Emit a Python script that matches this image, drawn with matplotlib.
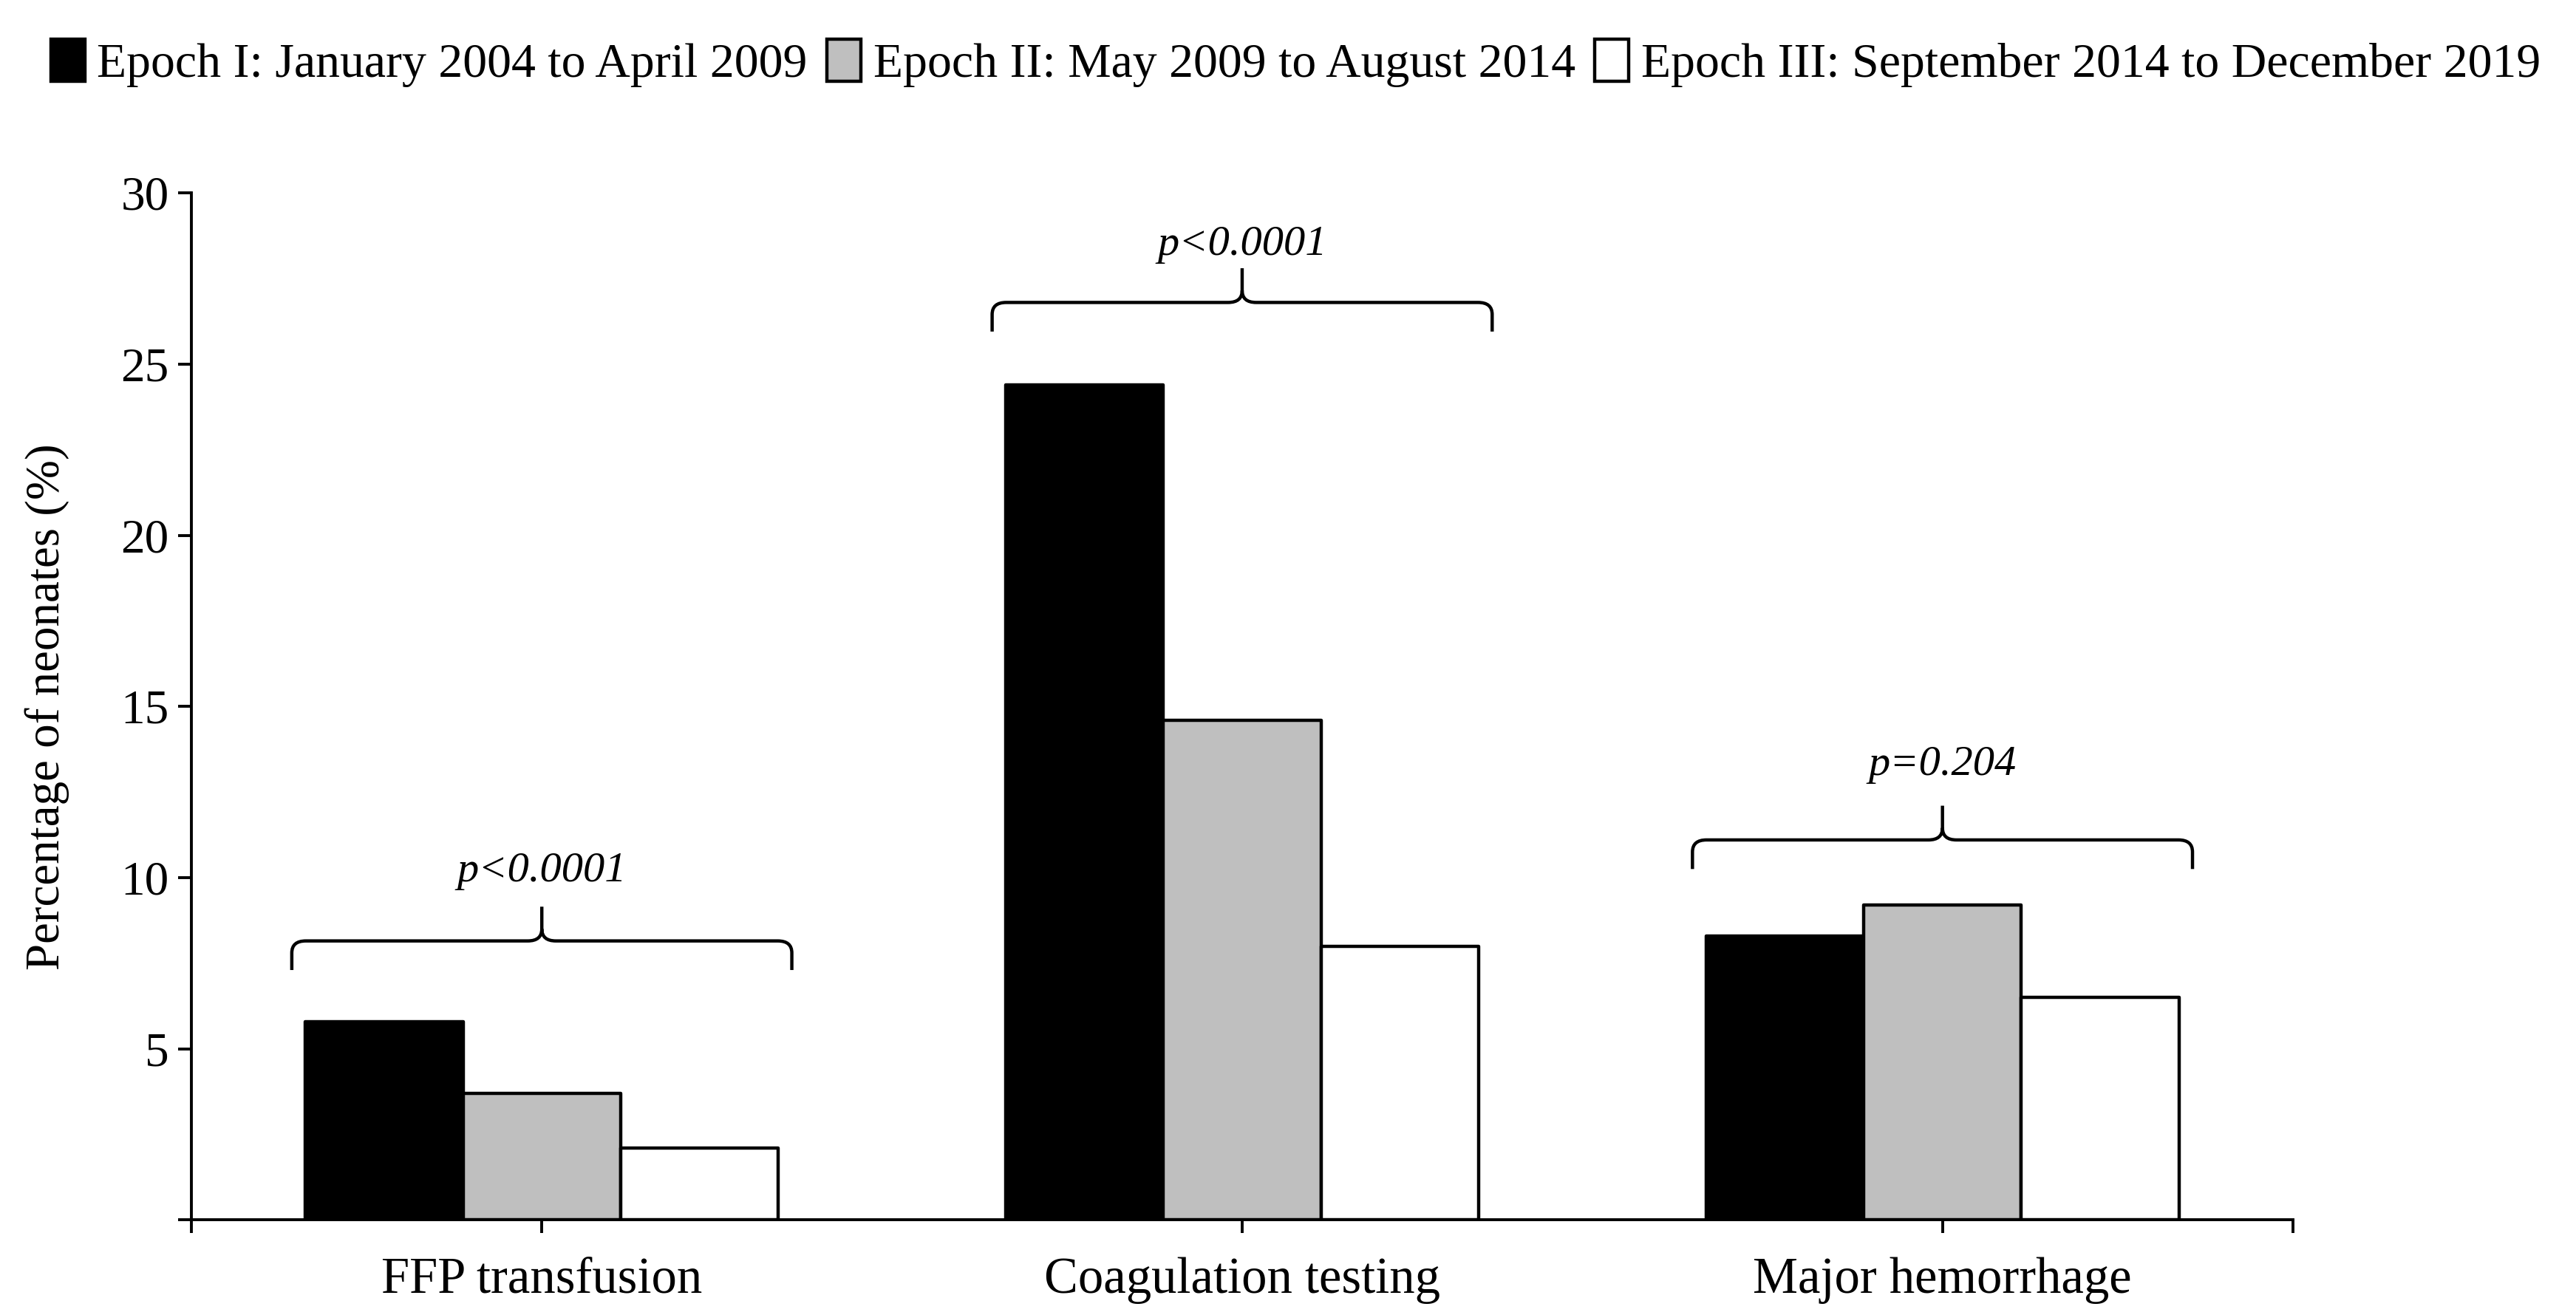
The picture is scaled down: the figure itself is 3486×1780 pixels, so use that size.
import matplotlib
matplotlib.use("Agg")
import matplotlib.pyplot as plt
from matplotlib.path import Path
from matplotlib.patches import PathPatch

plt.rcParams['font.family'] = ['Liberation Serif', 'DejaVu Serif']

categories = ["FFP transfusion", "Coagulation testing", "Major hemorrhage"]
epoch_labels = [
    "Epoch I: January 2004 to April 2009",
    "Epoch II: May 2009 to August 2014",
    "Epoch III: September 2014 to December 2019",
]
epoch1 = [5.8, 24.4, 8.3]
epoch2 = [3.7, 14.6, 9.2]
epoch3 = [2.1, 8.0, 6.5]
p_values = ["p<0.0001", "p<0.0001", "p=0.204"]
brace_levels = [8.15, 26.8, 11.1]
p_levels = [10.2, 28.5, 13.3]

fills = ["black", "#bfbfbf", "white"]
bar_w = 0.225
brace_half = 0.357


def add_brace(ax, c, h, w=brace_half, drop=0.85, tip=1.0, rx=0.02, ry=0.35):
    verts = [
        (c - w, h - drop), (c - w, h - ry), (c - w, h), (c - w + rx, h),
        (c - rx, h), (c, h), (c, h + ry), (c, h + tip),
        (c, h + ry), (c, h), (c + rx, h),
        (c + w - rx, h), (c + w, h), (c + w, h - ry), (c + w, h - drop),
    ]
    codes = [
        Path.MOVETO, Path.LINETO, Path.CURVE3, Path.CURVE3,
        Path.LINETO, Path.CURVE3, Path.CURVE3, Path.LINETO,
        Path.MOVETO, Path.CURVE3, Path.CURVE3,
        Path.LINETO, Path.CURVE3, Path.CURVE3, Path.LINETO,
    ]
    ax.add_patch(PathPatch(Path(verts, codes), fill=False, lw=1.6,
                           edgecolor="black", capstyle="butt", zorder=3))


fig = plt.figure(figsize=(17.43, 8.9), dpi=200)
ax = fig.add_axes([0.0744, 0.0723, 0.8156, 0.781])

x = list(range(len(categories)))
series = [epoch1, epoch2, epoch3]
for i, vals in enumerate(series):
    pos = [xi + (i - 1) * bar_w for xi in x]
    ax.bar(pos, vals, width=bar_w, color=fills[i], edgecolor="black",
           linewidth=1.6, joinstyle="round", label=epoch_labels[i], zorder=2)

for xi, h, ph, p in zip(x, brace_levels, p_levels, p_values):
    add_brace(ax, xi, h)
    ax.text(xi, ph, p, ha="center", va="center", fontsize=21,
            style="italic")

ax.set_xlim(-0.5, 2.5)
ax.set_ylim(0, 30)
ax.set_yticks([0, 5, 10, 15, 20, 25, 30])
ax.set_yticklabels(["", "5", "10", "15", "20", "25", "30"])
ax.set_xticks(x)
ax.set_xticklabels(categories)
ax.set_xticks([-0.5, 2.5], minor=True)
ax.tick_params(axis="both", which="both", direction="out", length=6.5,
               width=1.4)
ax.tick_params(axis="x", pad=11.5, labelsize=24.7)
ax.tick_params(axis="y", pad=4.5, labelsize=23.5)

for s in ["top", "right"]:
    ax.spines[s].set_visible(False)
for s in ["left", "bottom"]:
    ax.spines[s].set_linewidth(1.4)

ax.set_ylabel("Percentage of neonates (%)", fontsize=23.4)
ax.yaxis.set_label_coords(-0.058, 0.5)

fig.legend(loc="center", bbox_to_anchor=(0.503, 0.952), ncol=3,
           frameon=False, fontsize=23.7, handlelength=0.7, handleheight=0.95,
           handletextpad=0.25, columnspacing=0.4, borderaxespad=0)

fig.savefig("out.png", dpi=200)
